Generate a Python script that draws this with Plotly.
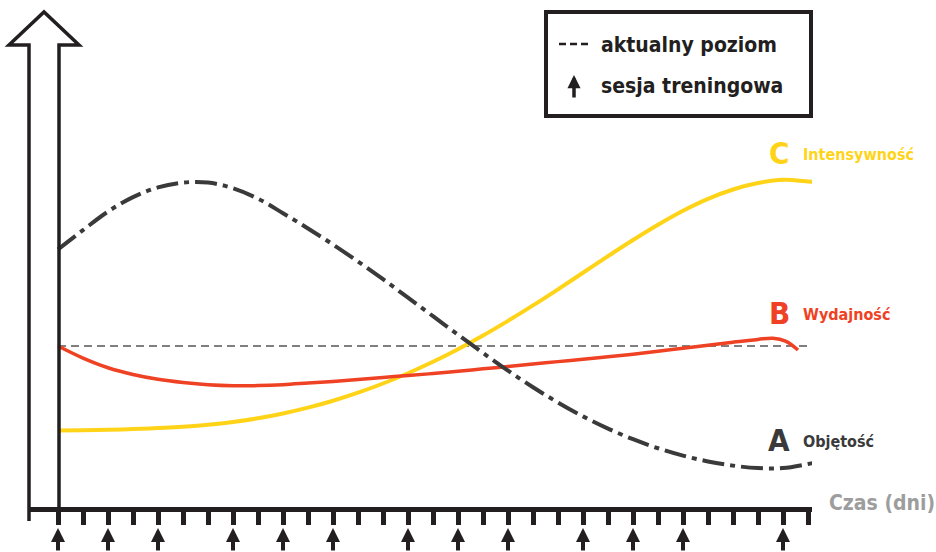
import plotly.graph_objects as go

# ---------------- data ----------------
# x = days (one tick per day), y = level (current level = 100)
A_days = [0, 1, 2, 3, 4, 5, 6, 7, 8, 9, 10, 11, 12, 13, 14, 15, 16, 17, 18, 19, 20,
          21, 22, 23, 24, 25, 26, 27, 28, 29, 30, 30.2]
A_vals = [160, 172, 183.5, 192.5, 198.5, 201.5, 201.5, 198, 191.5, 182.5, 173, 163, 152.5,
          141.5, 130, 118.5, 107, 95.7, 84.7, 74.4, 64.9, 56.3, 48.7, 42.1, 36.5, 31.9, 28.3,
          25.7, 24.2, 24.2, 26.7, 27.3]

B_days = [0, 1, 2, 3, 4, 5, 6, 7, 8, 9, 10, 11, 12, 13, 14, 15, 16, 17, 18, 19, 20,
          21, 22, 23, 24, 25, 26, 27, 28, 28.6, 29.1, 29.6]
B_vals = [100, 92.5, 86.5, 82.3, 79.3, 77.3, 75.9, 75.3, 75.4, 76, 77, 78, 79.2, 80.5, 81.7,
          82.9, 84.3, 85.8, 87.3, 88.8, 90.3, 91.8, 93.3, 94.9, 96.7, 98.6, 100.5, 102.4,
          104.1, 104.8, 103, 97.5]

C_days = [0, 1, 2, 3, 4, 5, 6, 7, 8, 9, 10, 11, 12, 13, 14, 15, 16, 17, 18, 19, 20,
          21, 22, 23, 24, 25, 26, 27, 28, 29, 30, 30.2]
C_vals = [47.5, 47.7, 48, 48.4, 49, 49.9, 51.1, 52.8, 55.1, 58.1, 61.7, 66, 71, 76.7, 83.1,
          90.2, 98, 106.5, 115.6, 125.2, 135.2, 145.5, 155.8, 165.8, 175.3, 184, 191.4, 197.2,
          201.2, 203.2, 202.2, 202]

current_level = 100
level_days = [0, 30.2]
tick_days = list(range(0, 31))
session_days = [0, 2, 4, 7, 9, 11, 14, 16, 18, 21, 23, 25, 29]

series_names = ["Objętość", "Wydajność", "Intensywność"]
series_letters = ["A", "B", "C"]
legend_texts = ["aktualny poziom", "sesja treningowa"]
x_title = "Czas (dni)"

# ---------------- style ----------------
W, H = 936, 552
ML, MR, MT, MB = 29, 124, 0, 45
PW, PH = W - ML - MR, H - MT - MB
BLACK = "#231f20"
DARK = "#3a3a3a"
RED = "#ef4123"
YEL = "#ffd418"
GRAY = "#9d9d9d"
FONT = "DejaVu Sans Condensed, DejaVu Sans, sans-serif"


def px(x):
    return (x - ML) / PW


def py(y):
    return (H - MB - y) / PH


fig = go.Figure()

fig.add_trace(go.Scatter(x=level_days, y=[current_level] * len(level_days), mode="lines",
                         line=dict(color="#555555", width=1.5, dash="8px,5px"),
                         hoverinfo="skip", showlegend=False))
fig.add_trace(go.Scatter(x=C_days, y=C_vals, mode="lines", name=series_names[2],
                         line=dict(color=YEL, width=4, shape="spline", smoothing=1.0),
                         showlegend=False))
fig.add_trace(go.Scatter(x=B_days, y=B_vals, mode="lines", name=series_names[1],
                         line=dict(color=RED, width=3.5, shape="spline", smoothing=1.0),
                         showlegend=False))
fig.add_trace(go.Scatter(x=A_days, y=A_vals, mode="lines", name=series_names[0],
                         line=dict(color=DARK, width=4, shape="spline", smoothing=1.0,
                                   dash="22px,6px,5px,6px"),
                         showlegend=False))

shapes = []
# hollow y-axis arrow
path = (f"M {px(29)},{py(521)} L {px(29)},{py(45)} L {px(9)},{py(45)} "
        f"L {px(44)},{py(12)} L {px(79)},{py(45)} L {px(59)},{py(45)} L {px(59)},{py(521)}")
shapes.append(dict(type="path", path=path, xref="paper", yref="paper",
                   line=dict(color=BLACK, width=3.5), fillcolor="rgba(0,0,0,0)", layer="above"))
# legend box
shapes.append(dict(type="rect", xref="paper", yref="paper",
                   x0=px(546), x1=px(811), y0=py(12), y1=py(116),
                   line=dict(color=BLACK, width=4), fillcolor="white", layer="above"))
shapes.append(dict(type="line", xref="paper", yref="paper",
                   x0=px(559), x1=px(591), y0=py(44), y1=py(44),
                   line=dict(color=BLACK, width=2.5, dash="7px,4px"), layer="above"))

annotations = []
# legend texts
for i, yy in enumerate([45, 86]):
    annotations.append(dict(x=px(599), y=py(yy), xref="paper", yref="paper", text=legend_texts[i],
                            showarrow=False, xanchor="left", yanchor="middle",
                            font=dict(family=FONT, size=21, color=BLACK, weight="bold")))
annotations.append(dict(x=px(574), y=py(75), xref="paper", yref="paper", text="",
                        showarrow=True, ax=0, ay=24, arrowhead=2, arrowwidth=3.5,
                        arrowsize=0.75, arrowcolor=BLACK))
# session arrows
for d in session_days:
    annotations.append(dict(x=d, y=py(528), xref="x", yref="paper", text="",
                            showarrow=True, ax=0, ay=28, arrowhead=2, arrowwidth=4,
                            arrowsize=0.7, arrowcolor=BLACK))
# series labels
label_y = [440, 313, 153]
colors = [DARK, RED, YEL]
for i in range(3):
    annotations.append(dict(x=px(779), y=py(label_y[i]), xref="paper", yref="paper",
                            text=series_letters[i], showarrow=False, xanchor="center",
                            yanchor="middle",
                            font=dict(family=FONT, size=31, color=colors[i], weight="bold")))
    annotations.append(dict(x=px(801), y=py(label_y[i] + 1), xref="paper", yref="paper",
                            text=series_names[i], showarrow=False, xanchor="left",
                            yanchor="middle",
                            font=dict(family=FONT, size=16, color=colors[i], weight="bold")))
# x title
annotations.append(dict(x=px(827), y=py(503), xref="paper", yref="paper", text=x_title,
                        showarrow=False, xanchor="left", yanchor="middle",
                        font=dict(family=FONT, size=21, color=GRAY, weight="bold")))

fig.update_layout(
    width=W, height=H,
    margin=dict(l=ML, r=MR, t=MT, b=MB, pad=0),
    paper_bgcolor="white", plot_bgcolor="white",
    xaxis=dict(range=[(ML - 58) / 25, (ML + PW - 58) / 25], showgrid=False, zeroline=False,
               showline=True, linecolor=BLACK, linewidth=4.5,
               tickmode="array", tickvals=tick_days, ticks="outside", ticklen=13,
               tickwidth=5, tickcolor=BLACK, showticklabels=False, fixedrange=True),
    yaxis=dict(range=[0, PH / 1.61], visible=False, fixedrange=True),
    shapes=shapes, annotations=annotations,
    showlegend=False,
)

fig.write_html("out.html", config={"displayModeBar": False},
               post_script="document.body.style.margin='0';")
